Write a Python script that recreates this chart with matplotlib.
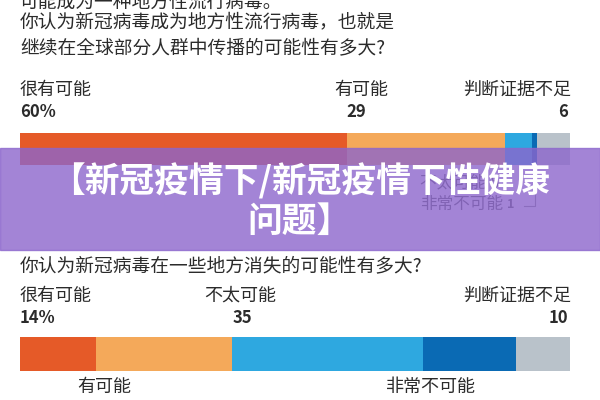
import matplotlib.pyplot as plt
import matplotlib.transforms as mtransforms
import numpy as np

plt.rcParams['font.family'] = ['Noto Sans CJK SC', 'DejaVu Sans']

# 数据
categories = ['很有可能', '有可能', '不太可能', '非常不可能', '判断证据不足']
colors = ['#e55a28', '#f4a95a', '#2ea8e0', '#0a6ab4', '#b9c2ca']
q1_values = [60, 29, 5, 1, 6]
q2_values = [14, 25, 35, 17, 10]

q0_tail = '可能成为一种地方性流行病毒。'
q1_title = '你认为新冠病毒成为地方性流行病毒，也就是\n继续在全球部分人群中传播的可能性有多大?'
q2_title = '你认为新冠病毒在一些地方消失的可能性有多大?'
banner = '【新冠疫情下/新冠疫情下性健康\n问题】'

W, H = 600, 400
TXT = '#2b2b2b'


def fx(x):
    return x / W


def fy(y):
    return 1 - y / H


fig = plt.figure(figsize=(6, 4), dpi=100)
fig.patch.set_facecolor('white')


def barra(valores, y0, y1):
    ax = fig.add_axes([fx(20), fy(y1), fx(550), (y1 - y0) / H])
    izq = np.concatenate([[0], np.cumsum(valores)[:-1]])
    ax.barh(0, valores, left=izq, color=colors, height=1.0, linewidth=0)
    ax.set_xlim(0, sum(valores))
    ax.set_ylim(-0.5, 0.5)
    ax.axis('off')
    tr = mtransforms.blended_transform_factory(ax.transData, fig.transFigure)
    return ax, izq, tr


# texto superior
fig.text(fx(20), fy(2), q0_tail, fontsize=13.5, color=TXT, va='center')
fig.text(fx(20), fy(35), q1_title, fontsize=13.5, color=TXT, va='center', linespacing=1.3)

# pregunta 1
ax1, izq1, tr1 = barra(q1_values, 133, 165)
tot1 = sum(q1_values)
dx1 = tot1 * 9 / 550
fig.text(fx(20), fy(90), categories[0], fontsize=13, color=TXT, va='center')
fig.text(fx(20), fy(112), f'{q1_values[0]}%', fontsize=12, color=TXT, va='center', weight='bold')
ax1.text(izq1[1] + dx1 * 1.6, fy(90), categories[1], fontsize=13, color=TXT, va='center', ha='center',
         transform=tr1)
ax1.text(izq1[1], fy(112), str(q1_values[1]), fontsize=12, color=TXT, va='center', ha='left',
         weight='bold', transform=tr1)
fig.text(fx(571), fy(90), categories[4], fontsize=13, color=TXT, va='center', ha='right')
fig.text(fx(568), fy(112), str(q1_values[4]), fontsize=12, color=TXT, va='center', ha='right', weight='bold')
# etiquetas pequeñas debajo (tapadas por la banda)
fig.text(fx(420), fy(183), f'{categories[2]} {q1_values[2]}', fontsize=12, color='#555555', va='center')
fig.text(fx(420), fy(204), categories[3], fontsize=12, color='#555555', va='center')
fig.text(fx(507), fy(205), str(q1_values[3]), fontsize=9, color='#555555', va='center', weight='bold')
c3 = izq1[3] + q1_values[3] / 2
ax1.plot([c3, c3, izq1[3] - tot1 * 8 / 550], [fy(165), fy(206), fy(206)], color='#888888', lw=0.8,
         transform=tr1, clip_on=False)

# pregunta 2
fig.text(fx(20), fy(266), q2_title, fontsize=13.5, color=TXT, va='center')
ax2, izq2, tr2 = barra(q2_values, 337, 371)
tot2 = sum(q2_values)
dx2 = tot2 * 8 / 550
fig.text(fx(20), fy(296), categories[0], fontsize=13, color=TXT, va='center')
fig.text(fx(20), fy(318), f'{q2_values[0]}%', fontsize=12, color=TXT, va='center', weight='bold')
ax2.text(izq2[2] + dx2, fy(296), categories[2], fontsize=13, color=TXT, va='center', ha='center', transform=tr2)
ax2.text(izq2[2], fy(318), str(q2_values[2]), fontsize=12, color=TXT, va='center', ha='left',
         weight='bold', transform=tr2)
fig.text(fx(571), fy(296), categories[4], fontsize=13, color=TXT, va='center', ha='right')
fig.text(fx(568), fy(318), str(q2_values[4]), fontsize=12, color=TXT, va='center', ha='right', weight='bold')
ax2.text(izq2[1] + dx2, fy(387), categories[1], fontsize=13, color=TXT, va='center', ha='center', transform=tr2)
ax2.text(izq2[3] + dx2, fy(387), categories[3], fontsize=13, color=TXT, va='center', ha='center', transform=tr2)

# banda morada
fig.patches.append(plt.Rectangle((0, fy(250)), 1, (250 - 148) / H, transform=fig.transFigure,
                                 color='#8c66cc', alpha=0.8, zorder=5))
fig.text(0.5, fy(201), banner, fontsize=25, color='white', weight='black', ha='center', va='center',
         linespacing=1.15, zorder=6)

fig.savefig('out.png', dpi=100)
